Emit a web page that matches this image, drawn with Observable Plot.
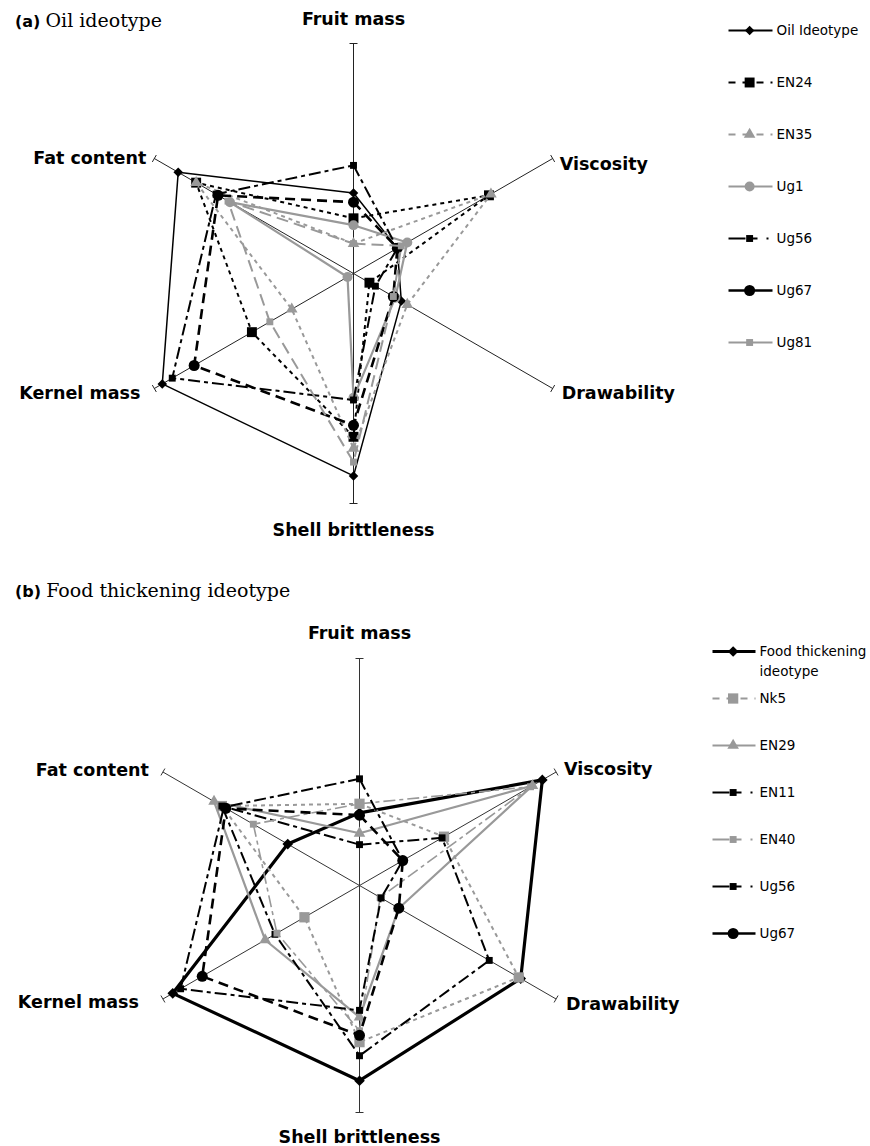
<!DOCTYPE html>
<html><head><meta charset="utf-8">
<script src="https://cdn.jsdelivr.net/npm/d3@7"></script>
<script src="https://cdn.jsdelivr.net/npm/@observablehq/plot@0.6"></script>
<style>
body{margin:0;background:#fff;width:870px;height:1146px;overflow:hidden;position:relative;font-family:"DejaVu Sans",sans-serif;}
.panel{position:absolute;left:0;width:870px;height:573px;}
.panel svg{position:absolute;left:0;top:0;overflow:visible;background:transparent;}
.title{position:absolute;left:15px;white-space:nowrap;line-height:24px;z-index:5;color:#000;}
.title b{font-family:"DejaVu Sans",sans-serif;font-size:16px;}
.title span{font-family:"DejaVu Serif",serif;font-size:19px;}
</style></head><body>
<div id="pa" class="panel" style="top:0"></div>
<div id="pb" class="panel" style="top:573px"></div>
<div class="title" style="top:8px"><b>(a)</b> <span>Oil ideotype</span></div>
<div class="title" style="top:578px"><b>(b)</b> <span>Food thickening ideotype</span></div>
<script>
// ---- data (values as fraction of each axis length) ----
const traits = ["Fruit mass", "Viscosity", "Drawability", "Shell brittleness", "Kernel mass", "Fat content"];

// panel (a): Oil ideotype
const oilGenotypes = ["Oil Ideotype", "EN24", "EN35", "Ug1", "Ug56", "Ug67", "Ug81"];
const oilIdeotype = [0.35, 0.22, 0.24, 0.88, 0.96, 0.88];
const en24 = [0.24, 0.68, 0.08, 0.71, 0.51, 0.79];
const en35 = [0.13, 0.69, 0.27, 0.76, 0.31, 0.79];
const ug1  = [0.21, 0.27, 0.21, 0.54, 0.03, 0.62];
const ug56 = [0.47, 0.22, 0.11, 0.55, 0.91, 0.69];
const ug67 = [0.31, 0.22, 0.20, 0.66, 0.80, 0.68];
const ug81 = [0.13, 0.24, 0.20, 0.82, 0.42, 0.63];

// panel (b): Food thickening ideotype
const foodGenotypes = ["Food thickening ideotype", "Nk5", "EN29", "EN11", "EN40", "Ug56", "Ug67"];
const foodIdeotype = [0.32, 0.93, 0.82, 0.86, 0.95, 0.365];
const nk5  = [0.36, 0.43, 0.81, 0.69, 0.28, 0.70];
const en29 = [0.23, 0.88, 0.20, 0.58, 0.48, 0.74];
const en11 = [0.18, 0.42, 0.66, 0.75, 0.43, 0.70];
const en40 = [0.36, 0.87, 0.105, 0.64, 0.42, 0.54];

const oilValues  = [oilIdeotype, en24, en35, ug1, ug56, ug67, ug81];
const foodValues = [foodIdeotype, nk5, en29, en11, en40, ug56, ug67];

// ---- styles ----
const GRAY = "#999999";
const styles = {
  "Oil Ideotype": {color: "#000", width: 1.5, dash: null, legendDash: null, symbol: "diamond2", r: 4.3},
  "EN24": {color: "#000", width: 2, dash: "4,4", legendDash: "7,7", symbol: "square", r: 5.6},
  "EN35": {color: GRAY, width: 2, dash: "4,4", legendDash: "7,7", symbol: "triangle", r: 4.3},
  "Ug1":  {color: GRAY, width: 2.2, dash: null, legendDash: null, symbol: "circle", r: 5},
  "Ug56": {color: "#000", width: 2, dash: "12,4,4,4", legendDash: "17,5,7,9,2,20", symbol: "square", r: 3.9},
  "Ug67": {color: "#000", width: 2.6, dash: "10,6", legendDash: null, symbol: "circle", r: 5.5},
  "Ug81": {color: GRAY, width: 2, dash: "12,6", legendDash: null, symbol: "square", r: 3.9},
  "Food thickening ideotype": {color: "#000", width: 3.2, dash: null, legendDash: null, symbol: "diamond2", r: 4.8},
  "Nk5":  {color: GRAY, width: 2, dash: "4,4", legendDash: "7,7", symbol: "square", r: 5.8},
  "EN29": {color: GRAY, width: 2.2, dash: null, legendDash: null, symbol: "triangle", r: 4.3},
  "EN11": {color: "#000", width: 2, dash: "12,4,4,4", legendDash: "17,5,7,9,2,20", symbol: "square", r: 3.9},
  "EN40": {color: GRAY, width: 1.6, dash: "12,4,4,4", legendDash: "17,5,7,9,2,20", symbol: "square", r: 3.9}
};

const angle = i => i * Math.PI / 3; // clockwise from up
const px = (v, i) => v * Math.sin(angle(i));
const py = (v, i) => v * Math.cos(angle(i));

function panel(el, cfg) {
  const W = 870, H = 573, R = cfg.R;
  const rows = [];
  cfg.names.forEach((name, s) => cfg.values[s].forEach((v, i) =>
    rows.push({name, trait: traits[i], i, v, x: px(v, i), y: py(v, i)})));
  const ax = traits.map((t, i) => ({t, i, x: px(1, i), y: py(1, i)}));
  const tk = 4 / R;
  const marks = [
    Plot.link(ax, {x1: 0, y1: 0, x2: "x", y2: "y", stroke: cfg.axisColor, strokeWidth: 1}),
    Plot.link(ax, {
      x1: d => d.x + Math.cos(angle(d.i)) * tk, y1: d => d.y - Math.sin(angle(d.i)) * tk,
      x2: d => d.x - Math.cos(angle(d.i)) * tk, y2: d => d.y + Math.sin(angle(d.i)) * tk,
      stroke: cfg.axisColor, strokeWidth: 1
    })
  ];
  cfg.names.forEach(name => {
    const st = styles[name];
    const data = rows.filter(d => d.name === name);
    marks.push(Plot.line(data, {x: "x", y: "y", curve: "linear-closed", stroke: st.color,
      strokeWidth: st.width, strokeDasharray: st.dash, strokeLinejoin: "miter", strokeLinecap: "butt"}));
    marks.push(Plot.dot(data, {x: "x", y: "y", symbol: st.symbol, r: st.r, fill: st.color, stroke: "none"}));
  });
  ax.forEach((a, i) => {
    const o = cfg.labels[i];
    marks.push(Plot.text([a], {x: "x", y: "y", text: "t", dx: o[0], dy: o[1], textAnchor: o[2],
      lineAnchor: "middle", fontSize: 17.5, fontWeight: "bold", fill: "#000",
      fontFamily: "DejaVu Sans"}));
  });
  const chart = Plot.plot({
    width: W, height: H, margin: 0,
    x: {domain: [-cfg.cx / R, (W - cfg.cx) / R], range: [0, W], axis: null},
    y: {domain: [-(H - cfg.cy) / R, cfg.cy / R], range: [H, 0], axis: null},
    style: {background: "transparent", overflow: "visible"},
    marks
  });
  el.appendChild(chart);

  // legend
  const lg = cfg.legend;
  const lmarks = [];
  cfg.names.forEach(name => {
    const st = styles[name];
    lmarks.push(Plot.line([{x: 0, y: name}, {x: 1, y: name}], {x: "x", y: "y", stroke: st.color,
      strokeWidth: Math.max(st.width, 2), strokeDasharray: st.legendDash, strokeLinecap: "butt"}));
    lmarks.push(Plot.dot([{x: 0.48, y: name}], {x: "x", y: "y", symbol: st.symbol, r: st.r, fill: st.color, stroke: "none"}));
  });
  const lines = [];
  cfg.names.forEach(name => (cfg.legendText[name] || name).split("\n").forEach((l, k) => lines.push({name, l, k})));
  [0, 1].forEach(k => {
    lmarks.push(Plot.text(lines.filter(d => d.k === k), {x: 1, y: "name", text: "l", dx: lg.tdx, dy: k * 20,
      textAnchor: "start", lineAnchor: "middle", fontSize: 13.5, fill: "#000", fontFamily: "DejaVu Sans"}));
  });
  const leg = Plot.plot({
    width: W, height: H, margin: 0,
    x: {domain: [0, 1], range: lg.x, axis: null},
    y: {type: "point", domain: cfg.names, range: lg.y, padding: 0, axis: null},
    style: {background: "transparent", overflow: "visible"},
    marks: lmarks
  });
  el.appendChild(leg);
}

panel(document.getElementById("pa"), {
  names: oilGenotypes, values: oilValues, cx: 353, cy: 273, R: 230, axisColor: "#222",
  labels: [[0, -24, "middle"], [7, 6, "start"], [9, 5, "start"], [0, 27, "middle"], [-14, 5, "end"], [-8, 0, "end"]],
  legend: {x: [728, 772], y: [30, 342], tdx: 4},
  legendText: {}
});
panel(document.getElementById("pb"), {
  names: foodGenotypes, values: foodValues, cx: 359, cy: 312, R: 227, axisColor: "#333",
  labels: [[0, -25, "middle"], [8, -3, "start"], [10, 5, "start"], [0, 25, "middle"], [-24, 3, "end"], [-14, -2, "end"]],
  legend: {x: [712, 755], y: [75, 362], tdx: 4},
  legendText: {"Food thickening ideotype": "Food thickening\nideotype"}
});
</script>
</body></html>
